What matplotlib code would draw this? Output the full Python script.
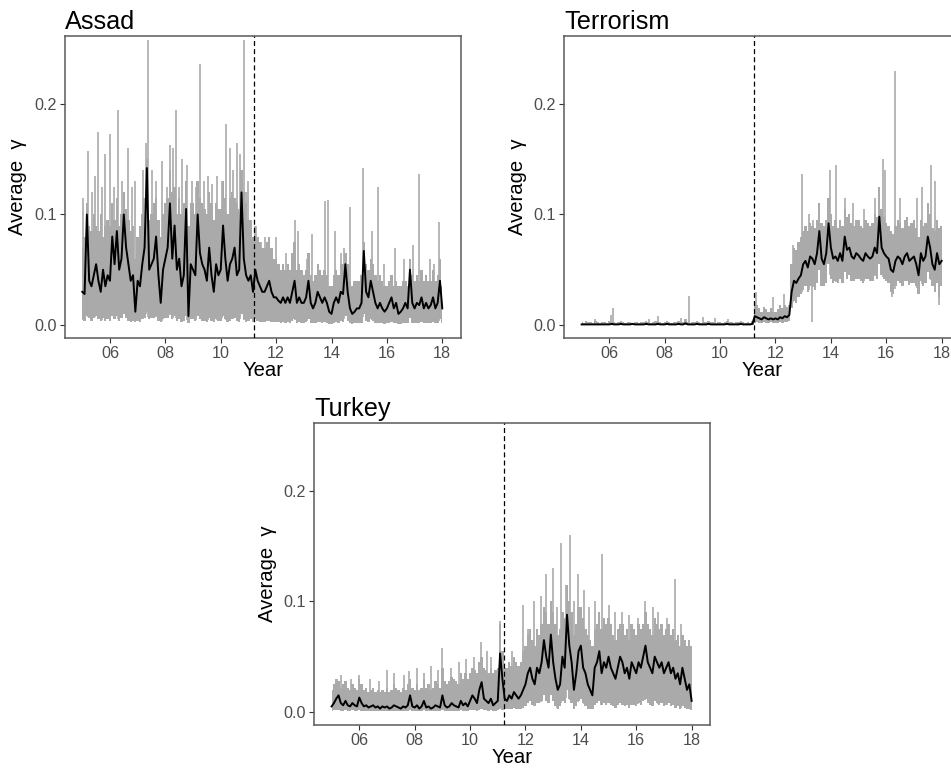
import numpy as np
import matplotlib.pyplot as plt

plt.rcParams['font.family'] = ['Liberation Sans', 'DejaVu Sans']

# monthly time points, Jan 2005 .. Jan 2018
months = 2005 + np.arange(157) / 12
intervention = 2011.21
year_ticks = [2006, 2008, 2010, 2012, 2014, 2016, 2018]
year_labels = ['06', '08', '10', '12', '14', '16', '18']
gamma_ticks = [0.0, 0.1, 0.2]
gamma_labels = ['0.0', '0.1', '0.2']

# all series values in thousandths of gamma
# ---- Assad ----
assad_mean = [
    30, 28, 100, 40, 35, 45, 55, 40, 30, 50, 35, 45,
    40, 80, 55, 85, 50, 60, 100, 70, 55, 40, 45, 12,
    40, 35, 55, 70, 142, 50, 55, 60, 80, 45, 20, 50,
    60, 70, 110, 60, 90, 50, 60, 35, 45, 105, 8, 55,
    50, 45, 100, 65, 55, 50, 40, 70, 45, 30, 55, 45,
    50, 90, 60, 40, 55, 60, 70, 45, 50, 120, 60, 45,
    40, 45, 30, 50, 40, 35, 30, 30, 35, 40, 30, 25,
    25, 22, 20, 25, 20, 25, 20, 30, 40, 20, 25, 20,
    20, 25, 40, 20, 15, 20, 30, 25, 20, 25, 20, 12,
    10, 20, 25, 20, 30, 28, 55, 30, 15, 10, 12, 15,
    15, 20, 67, 30, 25, 40, 30, 20, 15, 20, 15, 12,
    15, 20, 25, 15, 20, 10, 12, 15, 20, 15, 50, 20,
    15, 20, 18, 25, 15, 20, 15, 18, 25, 15, 20, 40,
    15]
assad_upper = [
    70, 80, 110, 90, 85, 100, 90, 85, 100, 80, 90, 95,
    90, 110, 95, 115, 90, 100, 120, 105, 95, 85, 90, 60,
    80, 90, 100, 115, 150, 95, 100, 110, 115, 95, 80, 100,
    110, 115, 140, 120, 125, 100, 115, 100, 110, 130, 90, 110,
    110, 100, 130, 115, 110, 105, 100, 120, 110, 95, 110, 105,
    105, 130, 115, 100, 115, 120, 115, 110, 105, 140, 120, 110,
    95, 95, 80, 90, 80, 75, 70, 70, 75, 80, 70, 60,
    60, 55, 50, 55, 50, 55, 50, 65, 75, 50, 55, 50,
    45, 50, 65, 45, 40, 45, 55, 50, 45, 50, 45, 35,
    35, 45, 50, 45, 55, 55, 65, 55, 40, 35, 40, 40,
    40, 45, 75, 55, 50, 60, 55, 45, 40, 45, 40, 35,
    35, 40, 45, 35, 40, 35, 35, 40, 40, 35, 60, 45,
    40, 45, 40, 50, 40, 45, 40, 40, 50, 40, 45, 60,
    35]
assad_lower = [
    5, 4, 8, 6, 4, 6, 8, 5, 4, 6, 4, 5,
    4, 8, 5, 8, 4, 6, 10, 6, 4, 3, 4, 3,
    4, 3, 5, 6, 12, 5, 6, 6, 8, 4, 3, 5,
    6, 6, 10, 5, 8, 4, 5, 3, 4, 8, 2, 5,
    5, 4, 8, 5, 4, 4, 3, 6, 4, 3, 5, 4,
    4, 8, 5, 3, 4, 5, 6, 4, 3, 10, 5, 3,
    4, 5, 3, 6, 4, 3, 3, 3, 4, 4, 3, 3,
    3, 3, 2, 3, 2, 3, 2, 4, 5, 2, 3, 2,
    2, 3, 5, 2, 2, 2, 3, 3, 2, 3, 2, 1,
    1, 2, 3, 2, 4, 3, 8, 4, 2, 1, 2, 2,
    2, 2, 10, 4, 3, 5, 4, 2, 2, 2, 2, 1,
    2, 2, 3, 2, 2, 1, 1, 2, 2, 2, 6, 2,
    2, 2, 2, 3, 2, 2, 2, 2, 3, 2, 2, 5,
    2]
assad_spike_x = [2005.02, 2005.20, 2005.35, 2005.47, 2005.58, 2005.70, 2005.82,
                 2006.00, 2006.15, 2006.30, 2006.45, 2006.66, 2006.80, 2006.90,
                 2007.20, 2007.30, 2007.39, 2007.53, 2007.65, 2007.87,
                 2008.05, 2008.18, 2008.28, 2008.37, 2008.50, 2008.61, 2008.80, 2008.95,
                 2009.10, 2009.24, 2009.40, 2009.55, 2009.70, 2009.87,
                 2010.05, 2010.18, 2010.32, 2010.45, 2010.60, 2010.70, 2010.84, 2010.92, 2010.98,
                 2011.29, 2011.45, 2011.60, 2011.85, 2012.00, 2012.35, 2012.67, 2012.79,
                 2013.10, 2013.28, 2013.50, 2013.76, 2013.88, 2014.12, 2014.35, 2014.45,
                 2014.65, 2015.14, 2015.45, 2015.69, 2015.90, 2016.30, 2016.60, 2016.94,
                 2017.17, 2017.55, 2017.70, 2017.88]
assad_spike_top = [115, 157, 120, 135, 175, 125, 155,
                   173, 125, 195, 130, 160, 125, 130,
                   140, 165, 258, 140, 130, 148,
                   125, 163, 160, 195, 125, 150, 145, 130,
                   125, 236, 130, 135, 128, 135,
                   130, 182, 160, 140, 165, 155, 258, 120, 130,
                   90, 75, 80, 70, 80, 65, 95, 85,
                   60, 82, 55, 112, 113, 85, 65, 70,
                   107, 142, 85, 125, 55, 70, 60, 72,
                   137, 60, 55, 93]

# ---- Terrorism ----
terror_mean = [
    0.5, 0.5, 0.5, 0.5, 0.5, 0.5, 0.5, 0.5, 0.5, 0.5, 0.5, 0.5,
    0.5, 1, 0.5, 0.5, 0.5, 1, 0.5, 0.5, 0.5, 0.5, 1, 0.5,
    0.5, 0.5, 0.5, 0.5, 1, 0.5, 0.5, 0.5, 0.5, 1, 0.5, 0.5,
    0.5, 1, 0.5, 0.5, 0.5, 0.5, 1, 0.5, 0.5, 1.5, 0.5, 0.5,
    0.5, 0.5, 1, 0.5, 0.5, 0.5, 0.5, 1, 0.5, 0.5, 0.5, 0.5,
    0.5, 0.5, 0.5, 1, 0.5, 0.5, 0.5, 0.5, 0.5, 1, 0.5, 0.5,
    0.5, 0.5, 1, 8, 7, 6, 5, 7, 6, 5, 6, 5,
    6, 5, 7, 6, 8, 7, 9, 30, 40, 38, 42, 45,
    55, 58, 52, 62, 60, 55, 65, 85, 60, 55, 65, 92,
    70, 60, 62, 58, 65, 58, 80, 68, 70, 62, 60, 65,
    63, 60, 58, 65, 62, 60, 62, 70, 65, 98, 70, 65,
    62, 60, 50, 48, 58, 62, 60, 55, 62, 65, 58, 60,
    62, 55, 45, 65, 58, 62, 80, 70, 55, 50, 65, 55,
    58]
terror_upper = [
    3, 2, 4, 3, 3, 2, 4, 3, 2, 3, 3, 2,
    4, 3, 3, 2, 3, 4, 3, 2, 3, 3, 2, 3,
    3, 2, 3, 3, 4, 3, 2, 3, 4, 3, 3, 2,
    3, 4, 3, 2, 3, 3, 4, 3, 3, 5, 3, 2,
    3, 3, 4, 3, 2, 3, 3, 4, 3, 3, 2, 3,
    3, 2, 3, 4, 3, 3, 2, 3, 3, 4, 3, 2,
    3, 2, 4, 20, 18, 15, 12, 16, 14, 12, 15, 12,
    12, 14, 18, 15, 18, 16, 18, 55, 70, 68, 75, 80,
    85, 90, 85, 92, 90, 88, 95, 110, 92, 90, 95, 115,
    100, 90, 95, 88, 95, 90, 105, 98, 100, 92, 90, 95,
    95, 90, 88, 95, 92, 90, 92, 100, 98, 125, 105, 98,
    92, 90, 85, 82, 90, 95, 92, 88, 95, 98, 90, 92,
    95, 88, 80, 95, 90, 92, 110, 100, 88, 85, 95, 88,
    90]
terror_lower = [
    0, 0, 0, 0, 0, 0, 0, 0, 0, 0, 0, 0,
    0, 0, 0, 0, 0, 0, 0, 0, 0, 0, 0, 0,
    0, 0, 0, 0, 0, 0, 0, 0, 0, 0, 0, 0,
    0, 0, 0, 0, 0, 0, 0, 0, 0, 0, 0, 0,
    0, 0, 0, 0, 0, 0, 0, 0, 0, 0, 0, 0,
    0, 0, 0, 0, 0, 0, 0, 0, 0, 0, 0, 0,
    0, 0, 0, 2, 3, 2, 2, 3, 2, 2, 3, 2,
    2, 2, 3, 2, 3, 3, 4, 15, 22, 20, 25, 28,
    32, 35, 30, 35, 35, 32, 38, 50, 35, 35, 38, 55,
    42, 38, 40, 38, 42, 38, 48, 42, 45, 40, 40, 42,
    42, 40, 38, 42, 42, 40, 40, 45, 42, 55, 45, 42,
    40, 38, 30, 28, 35, 40, 38, 35, 40, 40, 36, 38,
    38, 35, 28, 40, 35, 38, 48, 42, 35, 30, 38, 25,
    35]
terror_spike_x = [2005.50, 2006.05, 2006.12, 2007.45, 2007.75, 2008.60, 2008.88,
                  2009.40, 2009.80, 2010.30, 2011.30, 2011.90, 2012.30, 2012.65,
                  2012.95, 2013.20, 2013.35, 2013.98, 2014.20, 2014.50, 2014.80,
                  2015.20, 2015.60, 2015.87, 2015.95, 2016.30, 2016.50, 2017.10,
                  2017.30, 2017.60, 2017.75]
terror_spike_top = [5, 9, 15, 5, 8, 6, 26,
                    7, 6, 5, 30, 25, 28, 72,
                    137, 100, 95, 140, 145, 115, 110,
                    105, 115, 150, 140, 230, 115, 115,
                    125, 145, 130]
terror_dip_x = [2013.33, 2016.20, 2017.92]
terror_dip_bottom = [3, 25, 18]

# ---- Turkey ----
turkey_mean = [
    5, 8, 12, 15, 8, 6, 10, 6, 5, 8, 6, 5,
    13, 8, 5, 6, 4, 5, 6, 4, 5, 3, 5, 4,
    5, 3, 4, 6, 5, 4, 3, 5, 4, 6, 15, 5,
    4, 6, 3, 5, 10, 4, 5, 3, 4, 6, 5, 4,
    15, 6, 4, 5, 8, 6, 5, 4, 10, 6, 8, 5,
    10, 15, 12, 8, 20, 27, 12, 10, 8, 12, 6, 8,
    10, 53, 30, 12, 10, 15, 12, 18, 15, 12, 15, 20,
    25, 35, 40, 30, 25, 40, 35, 45, 65, 50, 40, 70,
    45, 30, 20, 25, 50, 40, 88, 60, 45, 20, 35, 55,
    60, 40, 35, 25, 20, 15, 40, 45, 55, 35, 45, 40,
    50, 40, 35, 30, 40, 50, 45, 35, 40, 30, 45, 40,
    35, 45, 40, 50, 60, 45, 40, 35, 50, 45, 40, 45,
    35, 40, 45, 35, 40, 30, 35, 25, 40, 30, 20, 25,
    10]
turkey_upper = [
    20, 25, 30, 28, 22, 25, 28, 22, 20, 25, 22, 20,
    30, 25, 20, 22, 18, 20, 22, 18, 20, 18, 20, 18,
    22, 18, 20, 25, 22, 20, 18, 22, 20, 25, 30, 22,
    20, 25, 20, 22, 30, 22, 25, 20, 22, 28, 25, 22,
    40, 28, 25, 28, 32, 30, 28, 25, 35, 30, 35, 30,
    35, 40, 38, 35, 45, 50, 40, 38, 35, 40, 35, 38,
    40, 80, 55, 40, 40, 45, 42, 50, 45, 42, 45, 55,
    60, 70, 75, 65, 60, 75, 70, 80, 95, 90, 80, 100,
    90, 80, 70, 75, 90, 85, 115, 100, 90, 70, 80, 95,
    95, 85, 75, 70, 65, 60, 75, 80, 90, 75, 85, 80,
    85, 80, 70, 65, 75, 80, 80, 70, 75, 65, 80, 75,
    70, 80, 75, 80, 90, 80, 75, 70, 85, 80, 75, 80,
    70, 75, 80, 70, 75, 65, 70, 60, 70, 65, 60, 65,
    60]
turkey_lower = [
    1, 2, 2, 2, 1, 1, 2, 1, 1, 2, 1, 1,
    2, 1, 1, 1, 1, 1, 1, 1, 1, 1, 1, 1,
    1, 1, 1, 1, 1, 1, 1, 1, 1, 1, 2, 1,
    1, 1, 1, 1, 2, 1, 1, 1, 1, 1, 1, 1,
    2, 1, 1, 1, 1, 1, 1, 1, 2, 1, 1, 1,
    2, 2, 2, 1, 2, 3, 2, 2, 1, 2, 1, 1,
    2, 3, 2, 3, 3, 3, 3, 4, 3, 3, 3, 4,
    5, 8, 10, 6, 5, 8, 8, 10, 15, 10, 8, 15,
    10, 5, 3, 5, 10, 8, 20, 12, 8, 3, 5, 10,
    12, 8, 5, 3, 3, 3, 6, 8, 10, 6, 8, 6,
    8, 6, 5, 4, 6, 8, 6, 5, 6, 4, 6, 6,
    5, 8, 6, 10, 12, 8, 6, 5, 10, 8, 6, 8,
    5, 6, 8, 5, 6, 4, 5, 3, 5, 4, 3, 3,
    2]
turkey_spike_x = [2005.20, 2005.35, 2005.70, 2006.00, 2006.40, 2006.70, 2007.00,
                  2007.25, 2007.60, 2007.80, 2008.10, 2008.35, 2008.60, 2008.85,
                  2009.00, 2009.30, 2009.60, 2009.85, 2010.15, 2010.40, 2010.60,
                  2010.75, 2011.08, 2011.50, 2011.90, 2012.10, 2012.30, 2012.55,
                  2012.75, 2013.00, 2013.15, 2013.30, 2013.45, 2013.60, 2013.75,
                  2013.90, 2014.10, 2014.30, 2014.50, 2014.75, 2015.00, 2015.25,
                  2015.50, 2015.75, 2016.05, 2016.30, 2016.60, 2016.80, 2017.10,
                  2017.40, 2017.60, 2017.90]
turkey_spike_top = [30, 33, 30, 33, 30, 28, 38,
                    35, 33, 37, 40, 35, 42, 38,
                    58, 40, 45, 48, 50, 63, 55,
                    50, 82, 55, 97, 75, 100, 105,
                    125, 130, 95, 153, 115, 160, 100,
                    125, 110, 95, 100, 143, 97, 90,
                    90, 88, 85, 100, 95, 90, 85,
                    120, 80, 62]

panels = [
    ('Assad', assad_mean, assad_lower, assad_upper, assad_spike_x, assad_spike_top, [], []),
    ('Terrorism', terror_mean, terror_lower, terror_upper, terror_spike_x, terror_spike_top,
     terror_dip_x, terror_dip_bottom),
    ('Turkey', turkey_mean, turkey_lower, turkey_upper, turkey_spike_x, turkey_spike_top, [], []),
]

fig = plt.figure(figsize=(9.51, 7.71), dpi=100)
axes = [fig.add_axes([0.0683, 0.5616, 0.4161, 0.3921]),
        fig.add_axes([0.5934, 0.5616, 0.4161, 0.3921]),
        fig.add_axes([0.3305, 0.0597, 0.4161, 0.3921])]

band_col = '#aaaaaa'
for ax, (name, mean, lower, upper, sx, stop, dx, dbot) in zip(axes, panels):
    mean = np.array(mean) / 1000
    lower = np.array(lower) / 1000
    upper = np.array(upper) / 1000
    sx = np.array(sx)
    stop = np.array(stop) / 1000

    # grey interval drawn as monthly bars plus the tall single-week spikes
    ax.fill_between(months, lower, upper, step='mid', color=band_col, linewidth=0, zorder=1)
    ax.vlines(sx, np.interp(sx, months, lower), stop, color=band_col, linewidth=1.2, zorder=1)
    if len(dx):
        dx = np.array(dx)
        ax.vlines(dx, np.array(dbot) / 1000, np.interp(dx, months, mean), color=band_col,
                  linewidth=1.2, zorder=1)
    ax.plot(months, mean, color='black', linewidth=1.4, zorder=2)
    ax.axvline(intervention, color='black', linewidth=0.9, dashes=(4, 2.5), zorder=3)

    ax.set_xlim(2004.375, 2018.664)
    ax.set_ylim(-0.0118, 0.2618)
    ax.set_xticks(year_ticks)
    ax.set_xticklabels(year_labels)
    ax.set_yticks(gamma_ticks)
    ax.set_yticklabels(gamma_labels)
    ax.tick_params(length=3.5, width=0.8, color='#333333', labelcolor='#4d4d4d',
                   labelsize=11.6, pad=2.5)
    for sp in ax.spines.values():
        sp.set_color('#5a5a5a')
        sp.set_linewidth(1.1)
    ax.set_xlabel('Year', fontsize=14.6, labelpad=0)
    ax.set_ylabel('Average  \u03b3', fontsize=14.6, labelpad=5)
    ax.set_title(name, loc='left', fontsize=18.2, pad=5)

fig.savefig('out.png', dpi=100)
